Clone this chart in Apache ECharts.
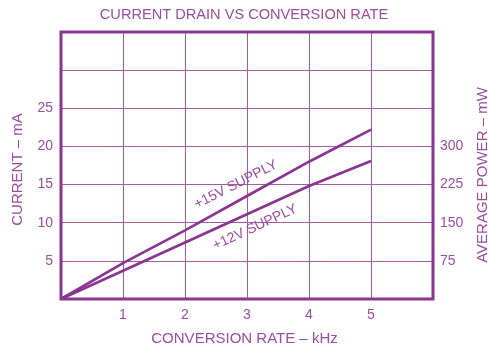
<!DOCTYPE html>
<html>
<head>
<meta charset="utf-8">
<script src="https://cdn.jsdelivr.net/npm/echarts@6/dist/echarts.min.js"></script>
<style>
  html, body { margin: 0; padding: 0; background: #ffffff; }
  #chart { width: 488px; height: 348px; }
</style>
</head>
<body>
<div id="chart"></div>
<script>
// Conversion rate (kHz) and supply current (mA) for the two supply voltages
const rateKHz = [0, 1, 2, 3, 4, 5];
const current15V = [0, 4.7, 9.0, 13.5, 18.0, 22.2];
const current12V = [0, 3.7, 7.4, 11.1, 14.8, 18.1];

// Tick labels shown on each axis
const xTickLabels = [1, 2, 3, 4, 5];
const currentTickLabels = [5, 10, 15, 20, 25];
const powerTickLabels = [75, 150, 225, 300];

// Curve captions: text and anchor in data units
const captions = [
  { text: '+15V SUPPLY', at: [2.82, 15.0], rotate: 27 },
  { text: '+12V SUPPLY', at: [3.13, 9.4], rotate: 25 }
];

const ink = '#8a3590';
const textInk = '#9a4c9f';
const gridInk = '#a25ca6';
const font = '"Liberation Sans", Arial, sans-serif';

const chart = echarts.init(document.getElementById('chart'), null, { renderer: 'canvas' });

function captionPoint(c) {
  return {
    coord: c.at,
    symbol: 'circle',
    symbolSize: 1,
    itemStyle: { color: 'rgba(0,0,0,0)' },
    label: {
      show: true,
      formatter: c.text,
      position: 'inside',
      rotate: c.rotate,
      color: textInk,
      fontFamily: font,
      fontSize: 14
    }
  };
}

function lineSeries(name, values, caption) {
  return {
    name: name,
    type: 'line',
    yAxisIndex: 0,
    data: rateKHz.map((x, i) => [x, values[i]]),
    symbol: 'none',
    lineStyle: { color: ink, width: 2.7 },
    z: 5,
    markPoint: { silent: true, data: [captionPoint(caption)] }
  };
}

chart.setOption({
  animation: false,
  backgroundColor: '#ffffff',
  title: {
    text: 'CURRENT DRAIN VS CONVERSION RATE',
    left: 'center',
    top: 2,
    textStyle: { color: textInk, fontFamily: font, fontSize: 14.6, fontWeight: 'normal' }
  },
  grid: {
    left: 61, right: 55, top: 32, bottom: 49,
    outerBoundsMode: 'none',
    containLabel: false,
    show: true,
    borderColor: ink,
    borderWidth: 3,
    backgroundColor: 'transparent',
    z: 6
  },
  xAxis: {
    type: 'value',
    min: 0, max: 6, interval: 1,
    name: 'CONVERSION RATE \u2013 kHz',
    nameLocation: 'middle',
    nameGap: 32,
    nameTextStyle: { color: textInk, fontFamily: font, fontSize: 15, padding: [0, 5, 0, 0] },
    axisLine: { show: false },
    axisTick: { show: false },
    axisLabel: {
      color: textInk, fontFamily: font, fontSize: 14, margin: 9,
      formatter: v => (xTickLabels.includes(v) ? String(v) : '')
    },
    splitLine: { show: true, lineStyle: { color: gridInk, width: 1 } }
  },
  yAxis: [
    {
      type: 'value',
      min: 0, max: 35, interval: 5,
      name: 'CURRENT \u2013 mA',
      nameLocation: 'middle',
      nameGap: 36,
      nameRotate: 90,
      nameTextStyle: { color: textInk, fontFamily: font, fontSize: 15, padding: [0, 8, 0, 0] },
      axisLine: { show: false },
      axisTick: { show: false },
      axisLabel: {
        color: textInk, fontFamily: font, fontSize: 14, margin: 8,
        formatter: v => (currentTickLabels.includes(v) ? String(v) : '')
      },
      splitLine: { show: true, lineStyle: { color: gridInk, width: 1 } }
    },
    {
      type: 'value',
      position: 'right',
      min: 0, max: 525, interval: 75,
      name: 'AVERAGE POWER \u2013 mW',
      nameLocation: 'middle',
      nameGap: 42,
      nameRotate: 90,
      nameTextStyle: { color: textInk, fontFamily: font, fontSize: 15, padding: [0, 19, 0, 0] },
      axisLine: { show: false },
      axisTick: { show: false },
      axisLabel: {
        color: textInk, fontFamily: font, fontSize: 14, margin: 7,
        formatter: v => (powerTickLabels.includes(v) ? String(v) : '')
      },
      splitLine: { show: false }
    }
  ],
  series: [
    lineSeries('+15V', current15V, captions[0]),
    lineSeries('+12V', current12V, captions[1])
  ]
});
</script>
</body>
</html>
